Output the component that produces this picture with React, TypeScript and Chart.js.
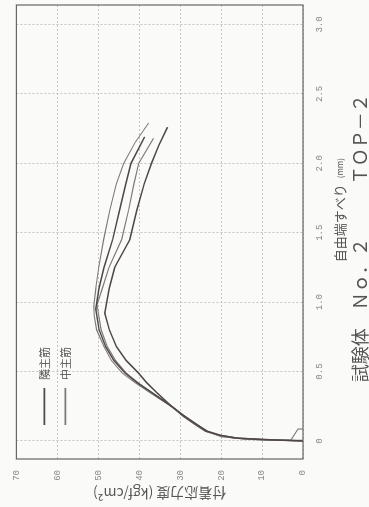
import React, { useEffect, useRef } from 'react';
import { Chart, registerables } from 'chart.js';

Chart.register(...registerables);

// ---- data (slip in mm, bond stress in kgf/cm2) ----
const slipA = [0, 0.005, 0.01, 0.02, 0.04, 0.07, 0.12, 0.18, 0.26, 0.35, 0.42, 0.49, 0.58, 0.68, 0.8, 0.9, 0.97, 1.1, 1.25, 1.45, 1.66, 1.85, 2.0, 2.15, 2.29];
const stressA = [0, 6, 12, 17, 20.5, 23.6, 26.2, 29, 32.8, 37.5, 41, 44.2, 46.8, 48.6, 50.4, 51, 51.1, 50.6, 49.9, 48.7, 47.2, 45.6, 43.8, 41, 37.7];

const slipB = [0, 0.01, 0.02, 0.04, 0.07, 0.12, 0.18, 0.26, 0.35, 0.42, 0.49, 0.58, 0.68, 0.8, 0.95, 1.1, 1.25, 1.45, 1.66, 1.85, 2.0, 2.19];
const stressB = [0, 10, 16, 20, 23.4, 26, 29, 32.6, 37, 40.5, 43.5, 46.2, 48.2, 49.8, 50.6, 49.8, 48.6, 46.5, 44.8, 43.3, 42.0, 38.7];

const slipC = [0.086, 0.086, 0.005, 0.01, 0.03, 0.07, 0.12, 0.18, 0.26, 0.35, 0.42, 0.49, 0.58, 0.68, 0.8, 0.98, 1.1, 1.25, 1.45, 1.66, 1.85, 2.0, 2.18];
const stressC = [0, 1.2, 3, 12, 20, 23.3, 26, 29, 32.5, 37, 40.3, 43.2, 45.8, 47.8, 49.3, 50.3, 49, 47.4, 44.3, 42.6, 41.3, 40.1, 36.5];

const slipD = [0, 0.01, 0.02, 0.04, 0.07, 0.12, 0.18, 0.26, 0.35, 0.42, 0.49, 0.58, 0.68, 0.8, 0.92, 1.1, 1.25, 1.45, 1.66, 1.85, 2.0, 2.13, 2.26];
const stressD = [0, 9, 16, 20.5, 23.8, 26.4, 29.3, 32.5, 35.8, 38.2, 40.2, 43.2, 45.6, 47.3, 48.4, 47.3, 46.0, 42.3, 40.6, 38.8, 37.0, 35.2, 33.1];

const seriesLabels = ['隣主筋', '中主筋'];
const xTitleMain = '自由端すべり';
const xTitleUnit = '(mm)';
const yAxisTitle = '付着応力度 (kgf/cm²)';
const chartTitle = '試験体　Ｎｏ．２　　　ＴＯＰ－２';

const xMin = -0.13;
const xMax = 3.14;
const xStep = 0.5;
const yMin = 0;
const yMax = 70;
const yStep = 10;

const darkColor = '#4f4747';
const lightColor = '#7d7878';
const textColor = '#555';
const tickColor = '#888';
const jpFont = '"Noto Sans CJK JP", sans-serif';

const toPoints = (xs: number[], ys: number[]) => xs.map((x, i) => ({ x, y: ys[i] }));

const decorPlugin = {
  id: 'decor',
  afterDraw(chart: any) {
    const { ctx, chartArea: a } = chart;
    const w = a.right - a.left;
    ctx.save();
    // frame
    ctx.strokeStyle = '#666';
    ctx.lineWidth = 1.2;
    ctx.strokeRect(a.left, a.top, w, a.bottom - a.top);
    // legend inside plot
    const entries = [chart.data.datasets[0], chart.data.datasets[1]];
    entries.forEach((ds: any, i: number) => {
      const y = a.top + 28 + i * 21;
      ctx.strokeStyle = ds.borderColor;
      ctx.lineWidth = 1.6;
      ctx.beginPath();
      ctx.moveTo(a.left + 34, y);
      ctx.lineTo(a.left + 71, y);
      ctx.stroke();
      ctx.fillStyle = textColor;
      ctx.font = '11px ' + jpFont;
      ctx.textBaseline = 'middle';
      ctx.textAlign = 'left';
      ctx.fillText(ds.label, a.left + 79, y);
    });
    // x axis title
    ctx.fillStyle = textColor;
    ctx.textBaseline = 'middle';
    ctx.textAlign = 'left';
    ctx.font = '13px ' + jpFont;
    const mainW = ctx.measureText(xTitleMain).width;
    ctx.font = '8px ' + jpFont;
    const unitW = ctx.measureText(xTitleUnit).width;
    const gap = 6;
    const total = mainW + gap + unitW;
    const cx = a.left + w * 0.548;
    const ty = a.bottom + 37;
    ctx.font = '13px ' + jpFont;
    ctx.fillText(xTitleMain, cx - total / 2, ty);
    ctx.font = '8px ' + jpFont;
    ctx.fillText(xTitleUnit, cx - total / 2 + mainW + gap, ty);
    // chart title
    ctx.font = '18px ' + jpFont;
    ctx.textAlign = 'center';
    ctx.fillText(chartTitle, a.left + w * 0.486, a.bottom + 57);
    ctx.restore();
  },
};

export default function App() {
  const canvasRef = useRef<HTMLCanvasElement | null>(null);

  useEffect(() => {
    document.body.style.margin = '0';
    const canvas = canvasRef.current;
    if (!canvas) return;
    const chart = new Chart(canvas, {
      type: 'scatter',
      data: {
        datasets: [
          { label: seriesLabels[0], data: toPoints(slipB, stressB), borderColor: darkColor, borderWidth: 1.5 },
          { label: seriesLabels[1], data: toPoints(slipA, stressA), borderColor: lightColor, borderWidth: 1.1 },
          { label: seriesLabels[1], data: toPoints(slipC, stressC), borderColor: lightColor, borderWidth: 1.1 },
          { label: seriesLabels[0], data: toPoints(slipD, stressD), borderColor: darkColor, borderWidth: 1.5 },
        ].map((d) => ({ ...d, showLine: true, pointRadius: 0, tension: 0, fill: false, backgroundColor: d.borderColor })),
      },
      options: {
        animation: false,
        responsive: false,
        devicePixelRatio: 1,
        layout: { padding: { left: 0, right: 5, top: 14, bottom: 0 } },
        plugins: {
          legend: { display: false },
          title: { display: false },
          tooltip: { enabled: false },
        },
        scales: {
          x: {
            type: 'linear',
            min: xMin,
            max: xMax,
            afterBuildTicks: (axis: any) => {
              axis.ticks = axis.ticks.filter((t: any) => Math.abs(t.value / xStep - Math.round(t.value / xStep)) < 1e-6);
            },
            afterFit: (scale: any) => {
              scale.height = 66;
            },
            ticks: {
              stepSize: xStep,
              includeBounds: false,
              padding: 11,
              color: tickColor,
              font: { family: '"Liberation Mono", monospace', size: 9 },
              callback: (v: any) => (Number(v) === 0 ? '0' : Number(v).toFixed(1)),
              maxRotation: 0,
              autoSkip: false,
            },
            grid: { color: '#c4c4c4', lineWidth: 1, drawTicks: false },
            border: { display: false, dash: [2, 2] },
          },
          y: {
            type: 'linear',
            min: yMin,
            max: yMax,
            afterFit: (scale: any) => {
              scale.width = 48;
            },
            ticks: {
              stepSize: yStep,
              padding: 11,
              color: tickColor,
              font: { family: '"Liberation Mono", monospace', size: 9 },
            },
            grid: { color: '#c4c4c4', lineWidth: 1, drawTicks: false },
            border: { display: false, dash: [2, 2] },
            title: {
              display: true,
              text: yAxisTitle,
              color: textColor,
              font: { family: jpFont, size: 14 },
              padding: { top: 5, bottom: 0 },
            },
          },
        },
      },
      plugins: [decorPlugin],
    } as any);
    return () => chart.destroy();
  }, []);

  return (
    <div style={{ position: 'fixed', left: 0, top: 0, width: 369, height: 507, background: '#fafaf8', overflow: 'hidden' }}>
      <div
        style={{
          position: 'absolute',
          left: 0,
          top: 0,
          width: 507,
          height: 369,
          transformOrigin: '0 0',
          transform: 'translateY(507px) rotate(-90deg)',
        }}
      >
        <canvas ref={canvasRef} width={507} height={369} style={{ width: 507, height: 369, display: 'block' }} />
      </div>
    </div>
  );
}
